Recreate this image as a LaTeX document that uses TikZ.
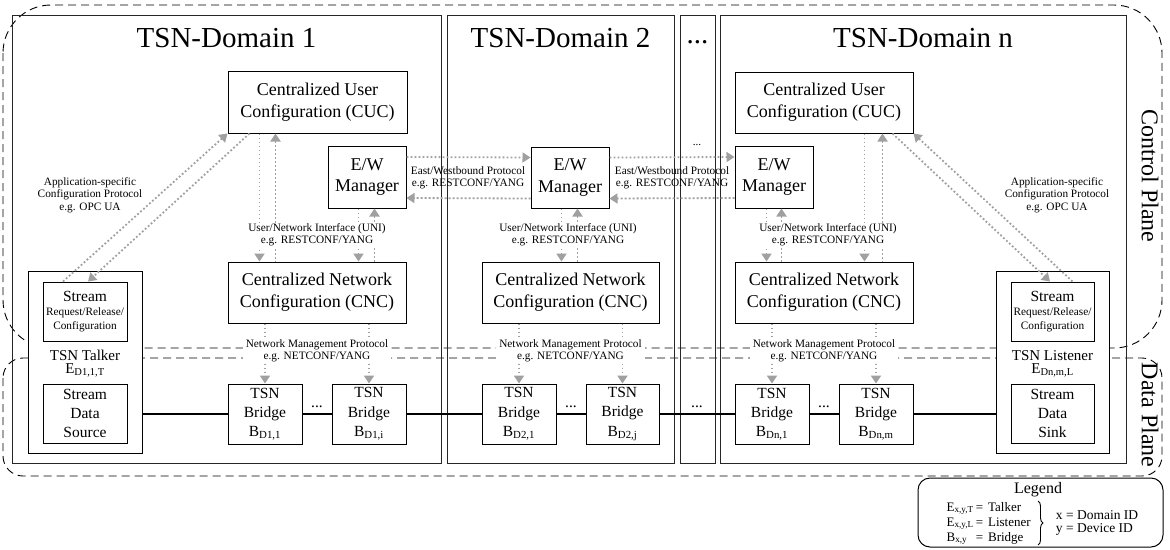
\documentclass[tikz,border=0pt]{standalone}
\usepackage{fontspec}
\setmainfont{Liberation Serif}
\usetikzlibrary{arrows.meta,decorations.pathreplacing,calc}
\definecolor{arrgray}{RGB}{160,160,160}
\newcommand\fsz[2]{\fontsize{#1}{#2}\selectfont}

\begin{document}
\begin{tikzpicture}[x=1pt,y=-1pt,
  box/.style={draw=black, line width=1pt, fill=white, align=center, inner sep=0pt},
  bigbox/.style={box, font=\fsz{18}{21.7}},
  smallbox/.style={box, font=\fsz{15.5}{19.2}},
  reqbox/.style={box, font=\fsz{11.3}{14}, minimum width=84pt, minimum height=59pt},
  frame/.style={draw=black!85, line width=1pt},
  plane/.style={draw=black, line width=0.9pt, dash pattern=on 8pt off 5pt},
  darr/.style={draw=arrgray, line width=1.8pt, dash pattern=on 1.8pt off 2.2pt, -{Triangle[length=8pt,width=10pt]}},
  rdarr/.style={draw=arrgray, line width=1.8pt, dash pattern=on 1.8pt off 2.2pt, {Triangle[length=8pt,width=10pt]}-},
  lbl/.style={font=\fsz{11.3}{12.3}, align=center, inner sep=1pt},
  wlbl/.style={lbl, fill=white, inner xsep=3pt},
  title/.style={font=\fsz{29}{34}},
  datal/.style={line width=1.7pt, draw=black},
  dots/.style={font=\fsz{15.5}{18}, anchor=base, yshift=7pt, inner sep=0pt},
]
\useasboundingbox (0,0) rectangle (1170,549);

% control and data plane outlines
\draw[plane, rounded corners=48pt] (3,5) rectangle (1162,348);
\draw[plane, rounded corners=20pt] (3,358) rectangle (1162,476);
\node[rotate=-90, font=\fsz{24}{28}] (cplane) at (1150,176) {Control Plane};
\node[rotate=-90, font=\fsz{24}{28}] (dplane) at (1150,415) {Data Plane};

% domain frames
\draw[frame] (12,15) rectangle (441,463);
\draw[frame] (447,15) rectangle (674,463);
\draw[frame] (680,15) rectangle (715,463);
\draw[frame] (720,15) rectangle (1126,463);

\node[title] (t1) at (226.5,38) {TSN-Domain 1};
\node[title] (t2) at (560.5,38) {TSN-Domain 2};
\node[title] (tdots) at (697.5,42) {...};
\node[title] (tn) at (923,38) {TSN-Domain n};

% domain 1
\node[bigbox, minimum width=179pt, minimum height=62pt] (cuc1) at (317.5,102) {Centralized User\\Configuration (CUC)};
\node[bigbox, minimum width=78pt, minimum height=62pt] (ew1) at (367,177) {E/W\\Manager};
\node[bigbox, minimum width=178pt, minimum height=61pt] (cnc1) at (317,292.5) {Centralized Network\\Configuration (CNC)};
\node[box, minimum width=114pt, minimum height=182pt] (talker) at (85,362) {};
\node[reqbox] (req1) at (85,311.5) {{\fsz{15.5}{14}Stream}\\Request/Release/\\Configuration};
\node[smallbox, minimum width=84pt, minimum height=59pt] (src) at (85,413.5) {Stream\\Data\\Source};
\node[font=\fsz{15}{13}, align=center, inner sep=0pt] (tlk) at (85,364) {TSN Talker\\E\textsubscript{D1,1,T}};
\node[smallbox, minimum width=74pt, minimum height=60pt] (b11) at (265,414) {TSN\\Bridge\\B\textsubscript{D1,1}};
\node[smallbox, minimum width=74pt, minimum height=60pt] (b1i) at (369,414) {TSN\\Bridge\\B\textsubscript{D1,i}};

% domain 2
\node[bigbox, minimum width=78pt, minimum height=61pt] (ew2) at (570,177.5) {E/W\\Manager};
\node[bigbox, minimum width=177pt, minimum height=61pt] (cnc2) at (570.5,292.5) {Centralized Network\\Configuration (CNC)};
\node[smallbox, minimum width=74pt, minimum height=60pt] (b21) at (519,414) {TSN\\Bridge\\B\textsubscript{D2,1}};
\node[smallbox, minimum width=73pt, minimum height=60pt] (b2j) at (622.5,414) {TSN\\Bridge\\B\textsubscript{D2,j}};

% domain n
\node[bigbox, minimum width=178pt, minimum height=61pt] (cucn) at (824,102.5) {Centralized User\\Configuration (CUC)};
\node[bigbox, minimum width=78pt, minimum height=62pt] (ewn) at (774,177) {E/W\\Manager};
\node[bigbox, minimum width=178pt, minimum height=61pt] (cncn) at (824,292.5) {Centralized Network\\Configuration (CNC)};
\node[smallbox, minimum width=74pt, minimum height=60pt] (bn1) at (772,414) {TSN\\Bridge\\B\textsubscript{Dn,1}};
\node[smallbox, minimum width=74pt, minimum height=60pt] (bnm) at (876,414) {TSN\\Bridge\\B\textsubscript{Dn,m}};
\node[box, minimum width=113pt, minimum height=182pt] (listener) at (1052.5,362) {};
\node[reqbox, minimum width=83pt] (reqn) at (1052.5,311.5) {{\fsz{15.5}{14}Stream}\\Request/Release/\\Configuration};
\node[smallbox, minimum width=83pt, minimum height=59pt] (sink) at (1052.5,413.5) {Stream\\Data\\Sink};
\node[font=\fsz{15}{13}, align=center, inner sep=0pt] (lst) at (1052.5,364) {TSN Listener\\E\textsubscript{Dn,m,L}};

% user/network interface (UNI)
\path ([xshift=32pt]cuc1.south west) coordinate (u1a) ([xshift=48pt]cuc1.south west) coordinate (u1b)
      ([xshift=31pt]ew1.south west) coordinate (u1c) ([xshift=47pt]ew1.south west) coordinate (u1d);
\draw[darr] (u1a) -- (u1a |- cnc1.north);
\draw[rdarr] (u1b) -- (u1b |- cnc1.north);
\draw[darr] (u1c) -- (u1c |- cnc1.north);
\draw[rdarr] (u1d) -- (u1d |- cnc1.north);

\path ([xshift=31pt]ew2.south west) coordinate (u2c) ([xshift=47pt]ew2.south west) coordinate (u2d);
\draw[darr] (u2c) -- (u2c |- cnc2.north);
\draw[rdarr] (u2d) -- (u2d |- cnc2.north);

\path ([xshift=32pt]ewn.south west) coordinate (unc) ([xshift=47pt]ewn.south west) coordinate (und)
      ([xshift=-49pt]cucn.south east) coordinate (una) ([xshift=-31pt]cucn.south east) coordinate (unb);
\draw[darr] (unc) -- (unc |- cncn.north);
\draw[rdarr] (und) -- (und |- cncn.north);
\draw[darr] (una) -- (una |- cncn.north);
\draw[rdarr] (unb) -- (unb |- cncn.north);

% network management towards the bridges
\foreach \c/\b in {cnc1/b11, cnc1/b1i, cnc2/b21, cnc2/b2j, cncn/bn1, cncn/bnm}
  \draw[darr] (\b.north |- \c.south) -- (\b.north);

% east/westbound
\draw[darr] ([yshift=20pt]ew1.east) -- ([yshift=20pt]ew2.west);
\draw[darr] ([yshift=-21pt]ew2.west) -- ([yshift=-21pt]ew1.east);
\draw[darr] ([yshift=20pt]ew2.east) -- ([yshift=20pt]ewn.west);
\draw[darr] ([yshift=-21pt]ewn.west) -- ([yshift=-21pt]ew2.east);

% application-specific configuration
\draw[darr] ([xshift=-22pt]req1.north) -- (cuc1.south west);
\draw[darr] ([xshift=22pt]cuc1.south west) -- ([xshift=3pt]req1.north);
\draw[darr] ([xshift=20pt]reqn.north) -- (cucn.south east);
\draw[darr] ([xshift=-21pt]cucn.south east) -- ([xshift=-2.5pt]reqn.north);

% labels
\node[wlbl] (uni1) at (317,235) {User/Network Interface (UNI)\\e.g. RESTCONF/YANG};
\node[wlbl] (uni2) at (568,235) {User/Network Interface (UNI)\\e.g. RESTCONF/YANG};
\node[wlbl] (unin) at (828,235) {User/Network Interface (UNI)\\e.g. RESTCONF/YANG};
\node[wlbl] (nmp1) at (317,351) {Network Management Protocol\\e.g. NETCONF/YANG};
\node[wlbl] (nmp2) at (570.5,351) {Network Management Protocol\\e.g. NETCONF/YANG};
\node[wlbl] (nmpn) at (824,351) {Network Management Protocol\\e.g. NETCONF/YANG};
\node[lbl] (ewl1) at (468,178) {East/Westbound Protocol\\e.g. RESTCONF/YANG};
\node[lbl] (ewl2) at (672,178) {East/Westbound Protocol\\e.g. RESTCONF/YANG};
\node[lbl] (ewdots) at (697,145) {...};
\node[lbl] (app1) at (90,195) {Application-specific\\Configuration Protocol\\e.g. OPC UA};
\node[lbl] (appn) at (1057,195) {Application-specific\\Configuration Protocol\\e.g. OPC UA};

% data path
\draw[datal] (talker.east |- b11.west) -- (b11.west);
\draw[datal] (b11.east) -- (b1i.west) node[dots, midway] (d1) {...};
\draw[datal] (b1i.east) -- (b21.west);
\draw[datal] (b21.east) -- (b2j.west) node[dots, midway] (d2) {...};
\draw[datal] (b2j.east) -- (bn1.west) node[dots, midway] (d3) {...};
\draw[datal] (bn1.east) -- (bnm.west) node[dots, midway] (d4) {...};
\draw[datal] (bnm.east) -- (listener.west |- bnm.east);

% legend
\draw[line width=1pt, rounded corners=12pt] (918,478) rectangle (1163,547);
\node[font=\fsz{16}{18}] (legt) at (1038,490) {Legend};
\node[font=\fsz{13}{15}, anchor=west, inner sep=0pt] (legtab) at (946.5,523)
  {\begin{tabular}{@{}l@{\hspace{2pt}}c@{\hspace{5pt}}l@{}}
   E\textsubscript{x,y,T} & = & Talker\\
   E\textsubscript{x,y,L} & = & Listener\\
   B\textsubscript{x,y} & = & Bridge
   \end{tabular}};
\draw[decorate, decoration={brace, amplitude=5pt}, line width=0.9pt] (1038,501) -- (1038,545);
\node[font=\fsz{13.5}{13.5}, align=left, inner sep=0pt] (legxy) at (1097,523) {x = Domain ID\\y = Device ID};
\end{tikzpicture}
\end{document}
